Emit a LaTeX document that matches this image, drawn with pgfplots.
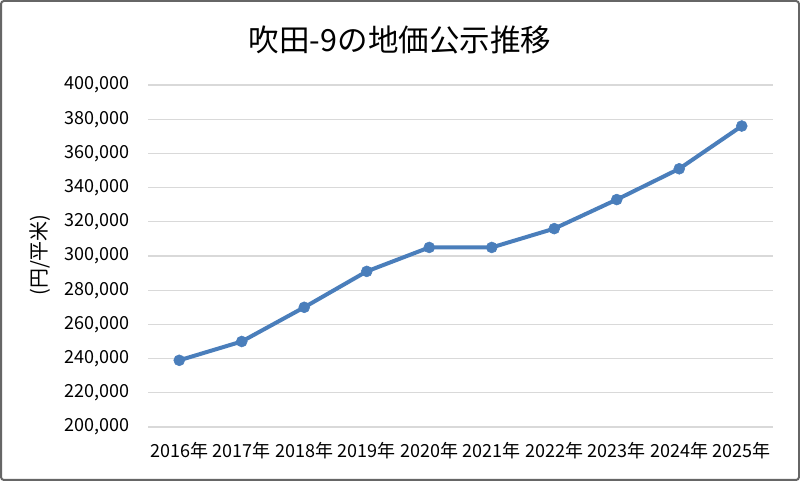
\documentclass[border=0pt]{standalone}
\usepackage{fontspec}
\setmainfont{Noto Sans CJK JP}
\usepackage{pgfplots}
\pgfplotsset{compat=1.18}
\definecolor{lineblue}{RGB}{74,126,187}
\definecolor{gridgray}{RGB}{217,217,217}
\begin{document}
\begin{tikzpicture}[x=1pt,y=1pt]
\fill[white] (0,0) rectangle (800,481);
\draw[black!60, line width=2pt, rounded corners=3pt] (1,1) rectangle (799,480);
\node[font=\fontsize{30.5}{36}\selectfont] at (400,441) {吹田-9の地価公示推移};
\node[font=\fontsize{20}{24}\selectfont, rotate=90] at (40,226) {(円/平米)};
\begin{axis}[
  at={(148pt,54pt)}, anchor=south west,
  scale only axis, width=625pt, height=342pt,
  xmin=-0.5, xmax=9.5, ymin=200000, ymax=400000,
  xtick={0,1,2,3,4,5,6,7,8,9},
  xticklabels={2016年,2017年,2018年,2019年,2020年,2021年,2022年,2023年,2024年,2025年},
  ytick={200000,220000,240000,260000,280000,300000,320000,340000,360000,380000,400000},
  scaled y ticks=false,
  /pgf/number format/.cd, fixed, 1000 sep={,}, assume math mode=true,
  /pgfplots/.cd,
  ymajorgrids, major grid style={gridgray, line width=1.2pt},
  axis line style={draw=none},
  major tick length=0pt,
  ticklabel style={font=\fontsize{18}{21}\selectfont, text=black},
  yticklabel style={xshift=-15pt},
  xticklabel style={yshift=-12pt},
  clip=false,
]
\addplot[lineblue, line width=4pt, mark=*, mark size=5.5pt, mark options={fill=lineblue, draw=lineblue, line width=0.5pt}]
  coordinates {(0,239000) (1,250000) (2,270000) (3,291000) (4,305000) (5,305000) (6,316000) (7,333000) (8,351000) (9,376000)};
\end{axis}
\end{tikzpicture}
\end{document}
